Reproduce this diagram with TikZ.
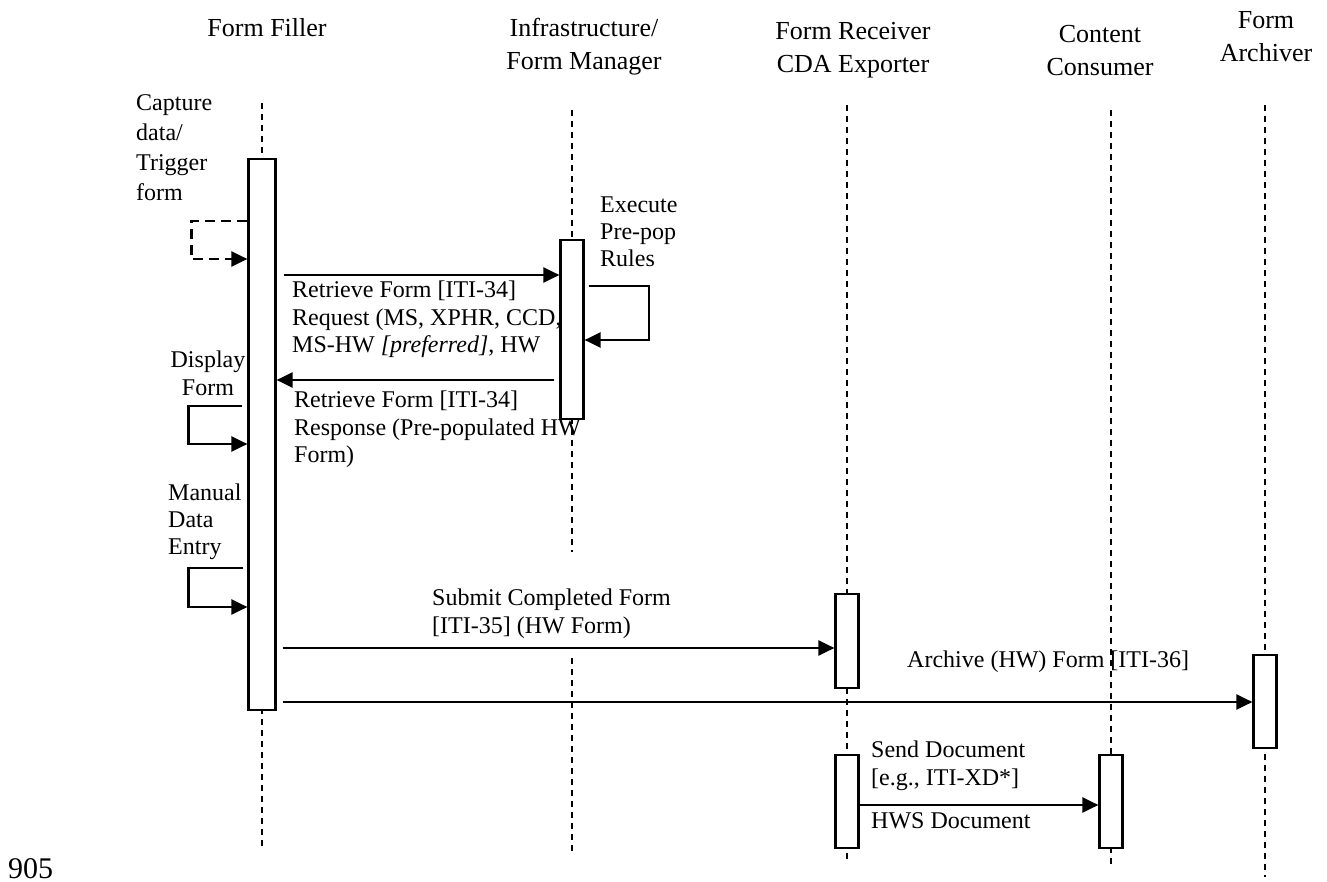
\documentclass[tikz,border=0pt]{standalone}
\usepackage{fontspec}
\setmainfont{Liberation Serif}
\usetikzlibrary{arrows.meta}
\begin{document}
\begin{tikzpicture}[x=1pt,y=-1pt,
	head/.style={font=\fontsize{26}{33}\selectfont,align=center,inner sep=0,anchor=north},
	lbl/.style={font=\fontsize{24}{27.5}\selectfont,align=left,inner sep=0,anchor=north west},
	life/.style={line width=1.8pt,dash pattern=on 6pt off 5pt},
	act/.style={draw,fill=white,line width=2.2pt,minimum width=23pt,inner sep=0},
	msg/.style={line width=2.2pt,-{Triangle[length=16pt,width=15pt]}}]
	\useasboundingbox (0,0) rectangle (1327,882);
	\node[head] (ffhead) at (267,18) {Form Filler};
	\node[head] (imhead) at (584,18) {Infrastructure/\\Form Manager};
	\node[head] (frhead) at (853,22) {Form Receiver\\CDA Exporter};
	\node[head] (cchead) at (1100,25) {Content\\Consumer};
	\node[head] (fahead) at (1266,11) {Form\\Archiver};
	\coordinate (fftop) at (262,103); \coordinate (ffend) at (262,847);
	\coordinate (imtop) at (572,110); \coordinate (imgap) at (572,552);
	\coordinate (imgap2) at (572,658); \coordinate (imend) at (572,853);
	\coordinate (frtop) at (847,105); \coordinate (frend) at (847,862);
	\coordinate (cctop) at (1111,110); \coordinate (ccend) at (1111,867);
	\coordinate (fatop) at (1265,105); \coordinate (faend) at (1265,877);
	\draw[life] (fftop) -- (ffend) (imtop) -- (imgap) (imgap2) -- (imend)
		(frtop) -- (frend) (cctop) -- (ccend) (fatop) -- (faend);
	\node[lbl,font=\fontsize{24}{30}\selectfont] (capture) at (136,94) {Capture\\data/\\Trigger\\form};
	\node[lbl,align=center,anchor=north] (display) at (208,351) {Display\\Form};
	\node[lbl,font=\fontsize{24}{27}\selectfont] (manual) at (168,484) {Manual\\Data\\Entry};
	\node[lbl,font=\fontsize{24}{27}\selectfont] (prepop) at (600,197) {Execute\\Pre-pop\\Rules};
	\node[lbl] (reqlbl) at (292,281) {Retrieve Form [ITI-34]\\Request (MS, XPHR, CCD,\\MS-HW \textit{[preferred]}, HW};
	\node[lbl] (resplbl) at (294,391) {Retrieve Form [ITI-34]\\Response (Pre-populated HW\\Form)};
	\node[lbl,font=\fontsize{24}{28}\selectfont] (sublbl) at (432,589) {Submit Completed Form\\{[ITI-35]} (HW Form)};
	\node[lbl] (archlbl) at (907,651) {Archive (HW) Form [ITI-36]};
	\node[lbl,font=\fontsize{24}{28}\selectfont] (sendlbl) at (871,741) {Send Document\\{[e.g., ITI-XD*]}};
	\node[lbl] (hwslbl) at (871,812) {HWS Document};
	\node[lbl,font=\fontsize{30}{30}\selectfont] (pageno) at (8,858) {905};
	\node[act,minimum width=27pt,minimum height=551pt] (ffbox) at (262,434.5) {};
	\node[act,minimum height=179pt] (imbox) at (572,329.5) {};
	\node[act,minimum height=94pt] (frbox) at (847,641) {};
	\node[act,minimum height=93pt] (frbox2) at (847,801.5) {};
	\node[act,minimum height=93pt] (ccbox) at (1111,801.5) {};
	\node[act,minimum height=93pt] (fabox) at (1265,701.5) {};
	\draw[msg,dash pattern=on 10pt off 6pt] (ffbox.west |- 0,221) -- ++(-56,0) |- (ffbox.west |- 0,259);
	\draw[msg] (ffbox.east |- 0,275) ++(7,0) -- (imbox.west |- 0,275);
	\draw[msg] (imbox.east |- 0,286) ++(4,0) -- ++(60,0) -- ++(0,54) -- (imbox.east |- 0,340);
	\draw[msg] (imbox.west |- 0,380) ++(-5,0) -- (ffbox.east |- 0,380);
	\draw[msg] (ffbox.west |- 0,406) ++(-5,0) -- ++(-54,0) |- (ffbox.west |- 0,444);
	\draw[msg] (ffbox.west |- 0,568) ++(-4,0) -- ++(-55,0) |- (ffbox.west |- 0,607);
	\draw[msg] (ffbox.east |- 0,648) ++(6,0) -- (frbox.west |- 0,648);
	\draw[msg] (ffbox.east |- 0,702) ++(6,0) -- (fabox.west |- 0,702);
	\draw[msg] (frbox2.east |- 0,805) -- (ccbox.west |- 0,805);
\end{tikzpicture}
\end{document}
